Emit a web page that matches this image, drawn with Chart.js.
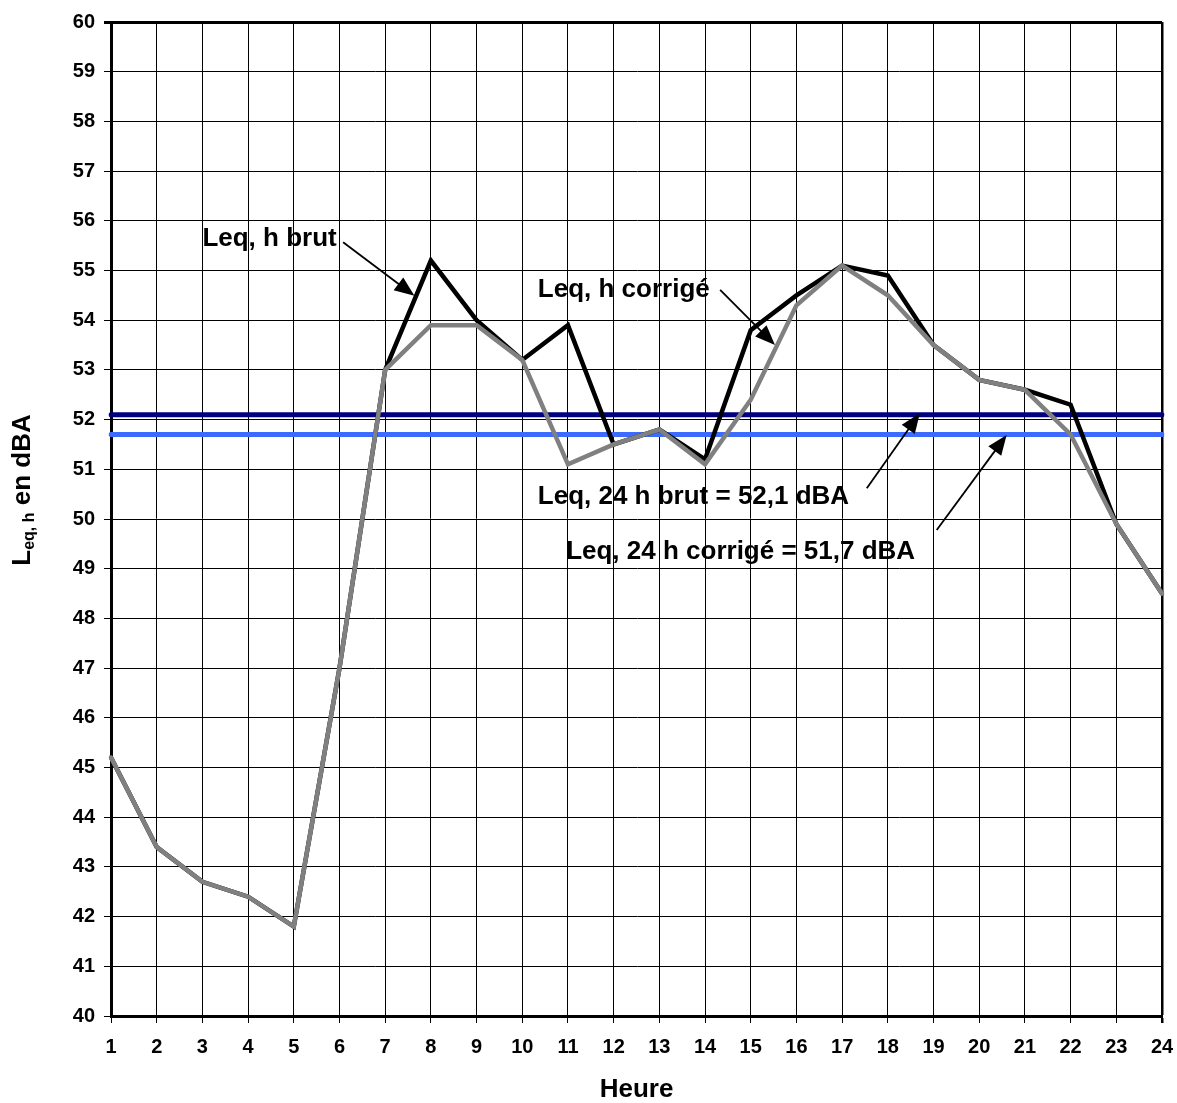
<!DOCTYPE html>
<html>
<head>
<meta charset="utf-8">
<script src="https://cdn.jsdelivr.net/npm/chart.js@4/dist/chart.umd.min.js"></script>
<style>
  body { margin: 0; background: #fff; }
  #wrap { width: 1177px; height: 1103px; }
</style>
</head>
<body>
<div id="wrap"><canvas id="chart" width="1177" height="1103"></canvas></div>
<script>
const hours = Array.from({ length: 24 }, (_, i) => String(i + 1));
const leqBrut = [45.2, 43.4, 42.7, 42.4, 41.8, 47.0, 53.0, 55.2, 54.0, 53.2, 53.9, 51.5,
  51.8, 51.2, 53.8, 54.5, 55.1, 54.9, 53.5, 52.8, 52.6, 52.3, 49.9, 48.5];
const leqCorrige = [45.2, 43.4, 42.7, 42.4, 41.8, 47.0, 53.0, 53.9, 53.9, 53.2, 51.1, 51.5,
  51.8, 51.1, 52.4, 54.3, 55.1, 54.5, 53.5, 52.8, 52.6, 51.7, 49.9, 48.5];
const leq24Brut = hours.map(() => 52.1);
const leq24Corrige = hours.map(() => 51.7);

// labels with arrows, positions in (hour, dBA)
const notes = [
  { text: 'Leq, h brut', x: 3.0, y: 55.5, from: [6.08, 55.57], to: [7.64, 54.49] },
  { text: 'Leq, h corrigé', x: 10.34, y: 54.47, from: [14.33, 54.61], to: [15.53, 53.5] },
  { text: 'Leq, 24 h brut = 52,1 dBA', x: 10.34, y: 50.3, from: [17.54, 50.62], to: [18.7, 52.13] },
  { text: 'Leq, 24 h corrigé = 51,7 dBA', x: 10.96, y: 49.2, from: [19.07, 49.78], to: [20.6, 51.69] }
];

const FONT = "'Liberation Sans', Arial, sans-serif";

const annotate = {
  id: 'annotate',
  afterDatasetsDraw(chart) {
    const { ctx, scales: { x, y } } = chart;
    const px = h => x.getPixelForValue(h - 1);
    const py = v => y.getPixelForValue(v);
    ctx.save();
    ctx.fillStyle = '#000';
    ctx.strokeStyle = '#000';
    ctx.font = 'bold 26px ' + FONT;
    ctx.textBaseline = 'alphabetic';
    notes.forEach(n => {
      ctx.fillText(n.text, px(n.x), py(n.y));
      const x1 = px(n.from[0]), y1 = py(n.from[1]);
      const x2 = px(n.to[0]), y2 = py(n.to[1]);
      const a = Math.atan2(y2 - y1, x2 - x1);
      const len = 20, w = 8;
      ctx.lineWidth = 1.8;
      ctx.beginPath();
      ctx.moveTo(x1, y1);
      ctx.lineTo(x2 - Math.cos(a) * len * 0.8, y2 - Math.sin(a) * len * 0.8);
      ctx.stroke();
      ctx.beginPath();
      ctx.moveTo(x2, y2);
      ctx.lineTo(x2 - Math.cos(a) * len - Math.sin(a) * w, y2 - Math.sin(a) * len + Math.cos(a) * w);
      ctx.lineTo(x2 - Math.cos(a) * len + Math.sin(a) * w, y2 - Math.sin(a) * len - Math.cos(a) * w);
      ctx.closePath();
      ctx.fill();
    });

    // y axis title with subscript
    const big = 'bold 26px ' + FONT, small = 'bold 16px ' + FONT;
    ctx.font = big;
    const wL = ctx.measureText('L').width;
    const wRest = ctx.measureText(' en dBA').width;
    ctx.font = small;
    const wSub = ctx.measureText('eq, h').width;
    const total = wL + wSub + wRest;
    ctx.translate(30, 490);
    ctx.rotate(-Math.PI / 2);
    let cx = -total / 2;
    ctx.font = big;
    ctx.fillText('L', cx, 0);
    cx += wL;
    ctx.font = small;
    ctx.fillText('eq, h', cx, 4);
    cx += wSub;
    ctx.font = big;
    ctx.fillText(' en dBA', cx, 0);
    ctx.restore();
  }
};

new Chart(document.getElementById('chart'), {
  type: 'line',
  data: {
    labels: hours,
    datasets: [
      { label: 'Leq, h corrigé', data: leqCorrige, borderColor: '#808080', borderWidth: 4.5, order: 0 },
      { label: 'Leq, h brut', data: leqBrut, borderColor: '#000000', borderWidth: 4.5, order: 1 },
      { label: 'Leq, 24 h brut', data: leq24Brut, borderColor: '#000080', borderWidth: 5, order: 2 },
      { label: 'Leq, 24 h corrigé', data: leq24Corrige, borderColor: '#3d6bff', borderWidth: 5, order: 3 }
    ]
  },
  options: {
    responsive: false,
    animation: false,
    layout: { padding: { left: 0, top: 22, right: 15, bottom: 0 } },
    elements: { point: { radius: 0, hoverRadius: 0 }, line: { tension: 0, borderCapStyle: 'round', borderJoinStyle: 'miter' } },
    plugins: { legend: { display: false }, tooltip: { enabled: false } },
    scales: {
      x: {
        offset: false,
        afterFit: s => { s.height = 87; s.paddingRight = 0; s.paddingLeft = 0; },
        grid: {
          color: '#000',
          lineWidth: c => (c.index === 23 ? 2.5 : 1),
          tickLength: 7,
          drawTicks: true
        },
        border: { color: '#000', width: 3 },
        ticks: { color: '#000', padding: 12, maxRotation: 0, autoSkip: false, font: { family: FONT, size: 20, weight: 'bold' } },
        title: { display: true, text: 'Heure', color: '#000', padding: { top: 0, bottom: 0 }, font: { family: FONT, size: 26, weight: 'bold', lineHeight: 1 } }
      },
      y: {
        min: 40,
        max: 60,
        afterFit: s => { s.width = 111; },
        grid: {
          color: '#000',
          lineWidth: c => (c.tick && c.tick.value === 60 ? 3 : 1),
          tickLength: 7
        },
        border: { color: '#000', width: 3 },
        ticks: { stepSize: 1, color: '#000', padding: 9, font: { family: FONT, size: 20, weight: 'bold' } }
      }
    }
  },
  plugins: [annotate]
});
</script>
</body>
</html>
